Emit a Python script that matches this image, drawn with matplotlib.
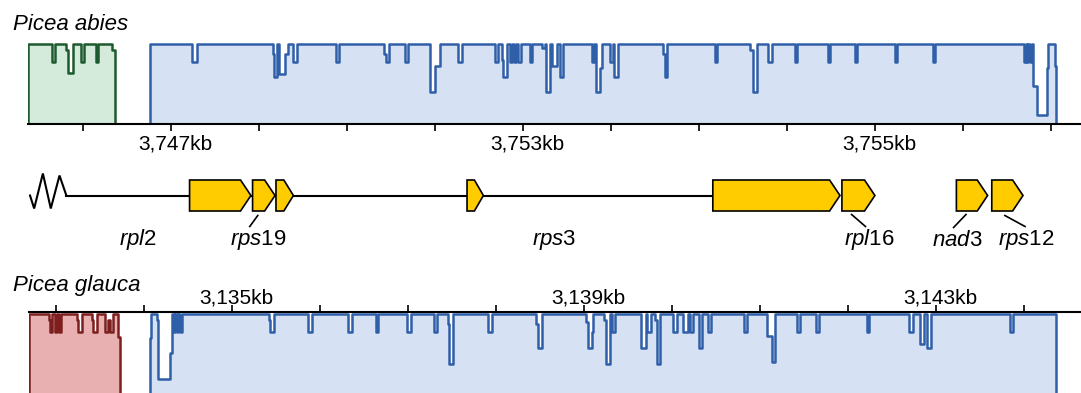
import matplotlib
matplotlib.use("Agg")
import matplotlib.pyplot as plt
from matplotlib.transforms import ScaledTranslation

plt.rcParams['font.family'] = ['Liberation Sans', 'DejaVu Sans']
plt.rcParams['mathtext.fontset'] = 'custom'
plt.rcParams['mathtext.rm'] = 'Liberation Sans'
plt.rcParams['mathtext.it'] = 'Liberation Sans:italic'

W, H = 1081, 393

# ---------------- Picea abies (top track), positions in kb ----------------
abies_ticks = [3746, 3747, 3748, 3749, 3750, 3751, 3752, 3753, 3754, 3755, 3756, 3757]
abies_label_pos = [3747, 3751, 3755]
abies_labels = ["3,747kb", "3,753kb", "3,755kb"]

abies_green = (3745.375, 3746.364)
abies_green_dips = [
    (3745.644, 3745.682, 77), (3745.807, 3745.833, 92), (3745.833, 3745.890, 64),
    (3745.977, 3746.011, 78), (3746.144, 3746.174, 78), (3746.326, 3746.364, 92),
]

abies_blue = (3746.761, 3757.057)
abies_blue_dips = [
    (3747.235, 3747.292, 78), (3748.156, 3748.174, 88), (3748.174, 3748.201, 59),
    (3748.231, 3748.295, 63), (3748.295, 3748.326, 88), (3748.390, 3748.428, 78),
    (3748.872, 3748.909, 78), (3749.420, 3749.440, 88), (3749.440, 3749.477, 78),
    (3749.659, 3749.697, 78), (3749.943, 3750.000, 40), (3750.000, 3750.057, 72),
    (3750.261, 3750.307, 78), (3750.682, 3750.713, 78), (3750.758, 3750.776, 80),
    (3750.776, 3750.815, 59), (3750.852, 3750.872, 78), (3750.901, 3750.920, 78),
    (3750.947, 3750.977, 78), (3751.080, 3751.106, 78), (3751.213, 3751.250, 95),
    (3751.261, 3751.307, 40), (3751.326, 3751.383, 72), (3751.420, 3751.458, 59),
    (3751.781, 3751.810, 78), (3751.826, 3751.875, 40), (3751.875, 3751.894, 70),
    (3751.989, 3752.026, 78), (3752.034, 3752.083, 59), (3752.594, 3752.614, 88),
    (3752.614, 3752.633, 59), (3753.182, 3753.208, 78), (3753.580, 3753.617, 92),
    (3753.617, 3753.662, 40), (3753.784, 3753.826, 78), (3754.091, 3754.110, 78),
    (3754.469, 3754.489, 78), (3754.773, 3754.792, 78), (3755.227, 3755.247, 78),
    (3755.663, 3755.682, 78), (3756.693, 3756.712, 78), (3756.724, 3756.742, 78),
    (3756.761, 3756.780, 78), (3756.799, 3756.837, 48), (3756.837, 3756.951, 11),
    (3756.951, 3756.966, 70), (3757.045, 3757.057, 72),
]

# ---------------- genes (same kb scale as P. abies) ----------------
gene_start = [3747.211, 3747.927, 3748.193, 3750.364, 3753.157, 3754.624, 3755.925, 3756.327]
gene_end = [3747.908, 3748.182, 3748.391, 3750.550, 3754.602, 3754.999, 3756.280, 3756.682]
backbone = (3745.811, 3753.157)
zigzag_x = [3745.398, 3745.445, 3745.544, 3745.634, 3745.733, 3745.811]
zigzag_y = [0, 13, -22, 13, -20, 0]

gene_names = ["rpl", "rps", "rps", "rpl", "nad", "rps"]
gene_nums = ["2", "19", "3", "16", "3", "12"]
gene_label_x = [3746.625, 3747.989, 3751.352, 3754.939, 3755.932, 3756.716]
leaders = [
    ((3747.986, 3747.895), (20, 31)),
    ((3754.734, 3754.892), (19, 31)),
    ((3756.034, 3755.893), (19, 32)),
    ((3756.476, 3756.705), (20, 31)),
]

# ---------------- Picea glauca (bottom track) ----------------
glauca_ticks = list(range(3133, 3145))
glauca_label_pos = [3135, 3139, 3143]
glauca_labels = ["3,135kb", "3,139kb", "3,143kb"]

glauca_red = (3132.693, 3133.727)
glauca_red_dips = [
    (3132.917, 3132.935, 92), (3132.935, 3132.958, 78), (3132.989, 3133.011, 78),
    (3133.034, 3133.057, 78), (3133.240, 3133.253, 92), (3133.253, 3133.292, 78),
    (3133.405, 3133.424, 92), (3133.424, 3133.469, 78), (3133.557, 3133.594, 78),
    (3133.594, 3133.614, 92), (3133.614, 3133.651, 78), (3133.708, 3133.727, 71),
]

glauca_blue = (3134.068, 3144.364)
glauca_blue_dips = [
    (3134.068, 3134.085, 70), (3134.144, 3134.164, 92), (3134.164, 3134.295, 19),
    (3134.295, 3134.318, 51), (3134.341, 3134.356, 78), (3134.372, 3134.390, 78),
    (3134.409, 3134.435, 78), (3135.415, 3135.432, 92), (3135.432, 3135.477, 78),
    (3135.867, 3135.906, 78), (3136.322, 3136.360, 78), (3136.636, 3136.663, 78),
    (3136.992, 3137.031, 78), (3137.299, 3137.333, 78), (3137.451, 3137.466, 88),
    (3137.466, 3137.508, 38), (3137.913, 3137.951, 78), (3138.460, 3138.481, 88),
    (3138.481, 3138.519, 58), (3139.022, 3139.042, 90), (3139.042, 3139.087, 58),
    (3139.087, 3139.106, 78), (3139.227, 3139.249, 92), (3139.249, 3139.294, 38),
    (3139.315, 3139.352, 78), (3139.653, 3139.703, 58), (3139.716, 3139.766, 78),
    (3139.807, 3139.827, 92), (3139.827, 3139.869, 38), (3140.011, 3140.055, 78),
    (3140.130, 3140.178, 78), (3140.199, 3140.241, 78), (3140.302, 3140.344, 58),
    (3140.406, 3140.448, 78), (3140.818, 3140.848, 78), (3141.076, 3141.133, 72),
    (3141.133, 3141.170, 40), (3141.424, 3141.455, 78), (3141.636, 3141.670, 78),
    (3142.212, 3142.242, 78), (3142.697, 3142.735, 78), (3142.818, 3142.864, 62),
    (3142.901, 3142.940, 58), (3143.841, 3143.878, 78),
]

BLUE_FILL, BLUE_EDGE = "#d6e1f3", "#2f5fa8"
GREEN_FILL, GREEN_EDGE = "#d4eadb", "#1d5a2e"
RED_FILL, RED_EDGE = "#e8b0b0", "#7e1f1f"
GENE_FILL = "#ffcc00"


def box(x0, y0, x1, y1):
    return [x0 / W, 1 - y1 / H, (x1 - x0) / W, (y1 - y0) / H]


def profile(start, end, dips, top=100):
    xs, ys = [start], [0]
    pos = start
    for a, b, lvl in sorted(dips):
        if a > pos:
            xs += [pos, a]
            ys += [top, top]
        xs += [a, b]
        ys += [lvl, lvl]
        pos = b
    if pos < end:
        xs += [pos, end]
        ys += [top, top]
    xs.append(end)
    ys.append(0)
    return xs, ys


def draw_block(ax, block, dips, fc, ec):
    xs, ys = profile(block[0], block[1], dips)
    ax.fill(xs, ys, color=fc, lw=0, zorder=1)
    ax.plot(xs, ys, color=ec, lw=1.8, zorder=2, solid_joinstyle="round")


fig = plt.figure(figsize=(W / 100, H / 100), dpi=100)

# top: Picea abies
ax1 = fig.add_axes(box(28, 40, 1081, 124))
ax1.set_xlim(3745.375, 3757.341)
ax1.set_ylim(0, 105)
draw_block(ax1, abies_green, abies_green_dips, GREEN_FILL, GREEN_EDGE)
draw_block(ax1, abies_blue, abies_blue_dips, BLUE_FILL, BLUE_EDGE)
for s in ["top", "left", "right"]:
    ax1.spines[s].set_visible(False)
ax1.spines["bottom"].set_linewidth(1.5)
ax1.spines["bottom"].set_zorder(3)
ax1.set_yticks([])
ax1.set_xticks(abies_ticks)
ax1.set_xticklabels([])
ax1.tick_params(axis="x", direction="out", length=5, width=1.2, color="black")
off = ScaledTranslation(0.045, -0.26, fig.dpi_scale_trans)
for p, lab in zip(abies_label_pos, abies_labels):
    ax1.text(p, 0, lab, transform=ax1.get_xaxis_transform() + off,
             ha="center", va="baseline", fontsize=15)

# middle: gene track
ax2 = fig.add_axes(box(28, 160, 1081, 260))
ax2.set_xlim(3745.375, 3757.341)
ax2.set_ylim(64.5, -35.5)
ax2.axis("off")
ax2.plot([backbone[0], backbone[1]], [0, 0], color="black", lw=1.5, zorder=1)
ax2.plot(zigzag_x, zigzag_y, color="black", lw=1.5, zorder=1, solid_joinstyle="miter")
h = 15.5
for s, e in zip(gene_start, gene_end):
    head = min(0.118, 0.55 * (e - s))
    ax2.fill([s, e - head, e, e - head, s], [-h, -h, 0, h, h],
             facecolor=GENE_FILL, edgecolor="black", lw=1.2, zorder=2)
for (lx, ly) in leaders:
    ax2.plot(lx, ly, color="black", lw=1.2)
for name, num, x in zip(gene_names, gene_nums, gene_label_x):
    ax2.text(x, 50, r"$\mathit{" + name + "}$" + num, ha="center", va="baseline", fontsize=16)

# bottom: Picea glauca
ax3 = fig.add_axes(box(29, 312, 1081, 393))
ax3.set_xlim(3132.693, 3144.648)
ax3.set_ylim(1.25, 102.5)
draw_block(ax3, glauca_red, glauca_red_dips, RED_FILL, RED_EDGE)
draw_block(ax3, glauca_blue, glauca_blue_dips, BLUE_FILL, BLUE_EDGE)
for s in ["bottom", "left", "right"]:
    ax3.spines[s].set_visible(False)
ax3.spines["top"].set_linewidth(1.5)
ax3.spines["top"].set_zorder(3)
ax3.set_yticks([])
ax3.xaxis.tick_top()
ax3.set_xticks(glauca_ticks)
ax3.set_xticklabels([])
ax3.tick_params(axis="x", direction="out", length=5, width=1.2, color="black")
off3 = ScaledTranslation(0.045, 0.087, fig.dpi_scale_trans)
for p, lab in zip(glauca_label_pos, glauca_labels):
    ax3.text(p, 1, lab, transform=ax3.get_xaxis_transform() + off3,
             ha="center", va="baseline", fontsize=15)

fig.text(13 / W, 1 - 29.5 / H, "Picea abies", style="italic", fontsize=16, va="baseline")
fig.text(13 / W, 1 - 290.7 / H, "Picea glauca", style="italic", fontsize=16, va="baseline")

fig.savefig("out.png", dpi=100)
